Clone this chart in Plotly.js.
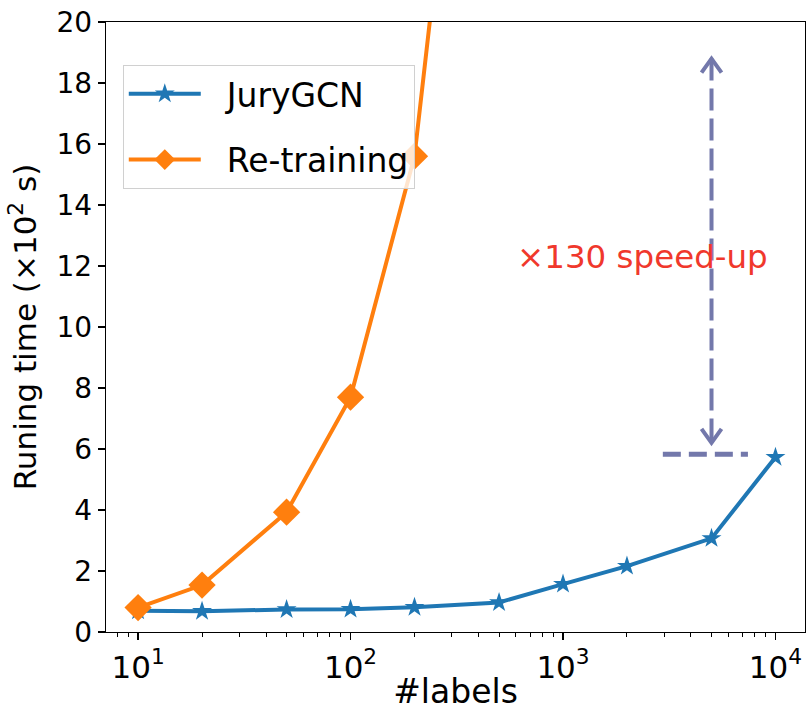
<!DOCTYPE html>
<html>
<head>
<meta charset="utf-8">
<script src="https://cdn.plot.ly/plotly-3.0.1.min.js"></script>
<style>html,body{margin:0;padding:0;background:#fff;}#chart{width:808px;height:711px;}</style>
</head>
<body>
<div id="chart"></div>
<script>
// ---- data ----
const labels = [10, 20, 50, 100, 200, 500, 1000, 2000, 5000, 10000];
const juryGCN = [0.70, 0.68, 0.74, 0.75, 0.81, 0.97, 1.57, 2.16, 3.07, 5.73];
const retrainLabels = [10, 20, 50, 100, 200, 500];
const retraining = [0.80, 1.54, 3.93, 7.70, 15.60, 40.0];

const xTickVals = [10, 100, 1000, 10000];
const xTickText = ['10<sup>1</sup>', '10<sup>2</sup>', '10<sup>3</sup>', '10<sup>4</sup>'];
const xMinorVals = [8, 9, 20, 30, 40, 50, 60, 70, 80, 90, 200, 300, 400, 500, 600, 700, 800, 900,
                    2000, 3000, 4000, 5000, 6000, 7000, 8000, 9000];
const yTickVals = [0, 2, 4, 6, 8, 10, 12, 14, 16, 18, 20];

// speed-up annotation
const arrowX = [5000, 5000];
const arrowY = [18.8, 6.2];
const baseX = [2950, 7420];
const baseY = [5.83, 5.83];
const speedText = '×130 speed-up';
const speedTextX = 2377;
const speedTextY = 12.3;

const FONT = 'DejaVu Sans, Liberation Sans, sans-serif';
const BLUE = '#1f77b4', ORANGE = '#ff7f0e', ARROW = '#7378ab';
const NB = '\u00A0\u00A0';

const traces = [
  {
    x: labels, y: juryGCN, name: NB + 'JuryGCN', type: 'scatter', mode: 'lines+markers',
    legendgroup: 'a',
    line: {color: BLUE, width: 4},
    marker: {symbol: 'star', size: 15, color: BLUE, line: {width: 0}}
  },
  {
    x: retrainLabels, y: retraining, name: NB + 'Re-training', type: 'scatter', mode: 'lines+markers',
    legendgroup: 'b',
    line: {color: ORANGE, width: 4},
    marker: {symbol: 'diamond', size: 21, color: ORANGE, line: {width: 0}}
  },
  {
    x: arrowX, y: arrowY, type: 'scatter', mode: 'lines', showlegend: false, hoverinfo: 'skip',
    line: {color: ARROW, width: 4, dash: '22px,8px'}
  },
  {
    x: baseX, y: baseY, type: 'scatter', mode: 'lines', showlegend: false, hoverinfo: 'skip',
    line: {color: ARROW, width: 5, dash: '18px,8px'}
  }
];

const layout = {
  width: 808, height: 711,
  margin: {l: 106, r: 3, t: 22, b: 79},
  paper_bgcolor: '#fff', plot_bgcolor: '#fff',
  font: {family: FONT, color: '#000'},
  showlegend: true,
  legend: {
    x: 0.024, y: 0.93, xanchor: 'left', yanchor: 'top',
    bgcolor: 'rgba(255,255,255,0.8)', bordercolor: '#d0d0d0', borderwidth: 1,
    font: {family: FONT, size: 33, color: '#000'},
    itemwidth: 72, tracegroupgap: 20
  },
  xaxis: {
    type: 'log', range: [0.849, 4.139],
    tickmode: 'array', tickvals: xTickVals, ticktext: xTickText,
    ticks: 'outside', ticklen: 7, tickwidth: 1.3, tickcolor: '#000',
    minor: {tickmode: 'array', tickvals: xMinorVals, ticks: 'outside', ticklen: 4, tickwidth: 1, tickcolor: '#000', showgrid: false},
    showline: true, linecolor: '#000', linewidth: 1.3, mirror: true,
    showgrid: false, zeroline: false,
    tickfont: {family: FONT, size: 31, color: '#000'},
    title: {text: '#labels', font: {family: FONT, size: 33, color: '#000'}, standoff: 5}
  },
  yaxis: {
    range: [0, 20],
    tickmode: 'array', tickvals: yTickVals,
    ticks: 'outside', ticklen: 7, tickwidth: 1.3, tickcolor: '#000',
    showline: true, linecolor: '#000', linewidth: 1.3, mirror: true,
    showgrid: false, zeroline: false,
    tickfont: {family: FONT, size: 28, color: '#000'},
    title: {text: 'Runing time (×10<sup>2</sup> s)', font: {family: FONT, size: 31, color: '#000'}, standoff: 10}
  },
  shapes: [
    {type: 'path', xref: 'x', yref: 'y', xsizemode: 'pixel', ysizemode: 'pixel',
     xanchor: arrowX[0], yanchor: arrowY[0], path: 'M-10,-14L0,0L10,-14',
     line: {color: ARROW, width: 4}},
    {type: 'path', xref: 'x', yref: 'y', xsizemode: 'pixel', ysizemode: 'pixel',
     xanchor: arrowX[1], yanchor: arrowY[1], path: 'M-10,14L0,0L10,14',
     line: {color: ARROW, width: 4}}
  ],
  annotations: [
    {x: Math.log10(speedTextX), y: speedTextY, xref: 'x', yref: 'y', text: speedText,
     showarrow: false, font: {family: FONT, size: 32.5, color: '#f0382c'}}
  ]
};

Plotly.newPlot('chart', traces, layout, {displayModeBar: false, staticPlot: true});
</script>
</body>
</html>
